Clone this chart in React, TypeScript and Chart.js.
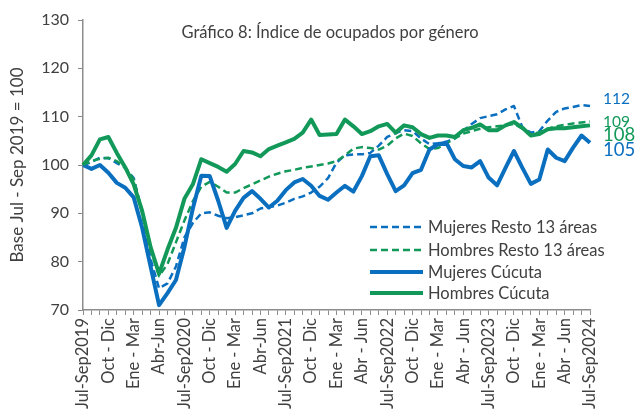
import React, { useEffect, useRef } from "react";
import { Chart, registerables } from "chart.js";
Chart.register(...registerables);

const quarterNames = ["Jul-Sep", "Ago-Oct", "Sep-Nov", "Oct-Dic", "Nov-Ene", "Dic-Feb", "Ene-Mar", "Feb-Abr", "Mar-May", "Abr-Jun", "May-Jul", "Jun-Ago"];
const startYear = 2019;
const nPeriods = 61;
const categories: string[] = Array.from({ length: nPeriods }, (_, i) => {
  const year = startYear + Math.floor((i + 6) / 12);
  return quarterNames[i % 12] + " " + year;
});

const tickLabels = [
  "Jul-Sep2019", "Oct - Dic", "Ene - Mar", "Abr-Jun",
  "Jul-Sep2020", "Oct - Dic", "Ene - Mar", "Abr-Jun",
  "Jul-Sep2021", "Oct - Dic", "Ene - Mar", "Abr - Jun",
  "Jul-Sep2022", "Oct - Dic", "Ene - Mar", "Abr - Jun",
  "Jul-Sep2023", "Oct - Dic", "Ene - Mar", "Abr - Jun",
  "Jul-Sep2024",
];

const mujeresResto = [
  100, 100.6, 101.5, 101.4, 100.4, 99.4, 97.3, 90, 80.5, 74.5,
  75.5, 79, 85, 88, 90, 90.2, 89.5, 89, 89.2, 89.6,
  90, 91, 91.3, 91.6, 92.2, 93, 93.5, 94.3, 95.5, 97.3,
  100.5, 102, 102.2, 102.2, 102.5, 104, 105.8, 106.6, 107.2, 107,
  105.5, 104.3, 104.5, 104.8, 105.5, 107, 108.5, 109.7, 110.1, 110.5,
  111.5, 112.2, 107.8, 106.7, 107, 109.2, 111, 111.7, 112, 112.4,
  112.2,
];

const hombresResto = [
  100, 100.8, 101.3, 101.5, 100.8, 99.5, 97, 90.5, 82.5, 77,
  79.5, 84, 88.5, 92.5, 95.5, 96.5, 95.5, 94.3, 94.3, 95.2,
  96, 96.8, 97.6, 98.2, 98.7, 99, 99.4, 99.7, 100, 100.3,
  100.8, 102, 103.4, 103.7, 103.5, 103.2, 104, 105.5, 106.5, 106,
  104.5, 103.3, 103.5, 104.5, 105.5, 106.5, 107, 107.5, 107.8, 108,
  108.2, 108.5, 107.5, 106.3, 106.8, 107.5, 108, 108.3, 108.6, 108.8,
  109,
];

const mujeresCucuta = [
  100, 99.2, 100, 98.4, 96.3, 95.3, 93.3, 87, 79, 71,
  73.5, 76.2, 83, 91, 97.8, 97.7, 92.6, 87, 90.5, 93.2,
  94.6, 93, 91.2, 92.6, 94.8, 96.4, 97.1, 95.7, 93.6, 92.8,
  94.3, 95.7, 94.5, 97.7, 101.8, 102, 98.1, 94.6, 95.8, 98.3,
  99, 103.2, 104.3, 104.6, 101.2, 99.8, 99.5, 100.8, 97.4, 95.8,
  99.4, 102.9, 99.4, 96.1, 97, 103.2, 101.5, 100.8, 103.6, 106.1,
  104.6,
];

const hombresCucuta = [
  100, 102, 105.3, 105.8, 102.5, 99.5, 96, 90.5, 83, 77.5,
  82.5, 87, 93, 96, 101.2, 100.4, 99.6, 98.6, 100.2, 102.9,
  102.6, 101.8, 103.3, 104, 104.7, 105.4, 106.7, 109.4, 106.2, 106.3,
  106.4, 109.4, 108, 106.4, 107, 108, 108.5, 106.7, 108.2, 107.8,
  106.4, 105.6, 106.1, 106.1, 105.8, 107.2, 107.7, 108.4, 107.2, 107.2,
  108.2, 108.9, 107.7, 106.1, 106.4, 107.4, 107.6, 107.6, 107.8, 108,
  108.2,
];

const yTicks = [70, 80, 90, 100, 110, 120, 130];

const BLUE = "#0B6FC0";
const GREEN = "#12995A";
const FONT = "Lato, 'Open Sans', sans-serif";
const TEXT = "#404040";

const seriesDefs = [
  { label: "Mujeres Resto 13 áreas", data: mujeresResto, color: BLUE, width: 2.5, dash: [7, 4], order: 4, endSize: 15.5, endOffset: -7 },
  { label: "Hombres Resto 13 áreas", data: hombresResto, color: GREEN, width: 2.5, dash: [7, 4], order: 3, endSize: 15.5, endOffset: 0 },
  { label: "Mujeres Cúcuta", data: mujeresCucuta, color: BLUE, width: 4, dash: [], order: 2, endSize: 18.5, endOffset: 7 },
  { label: "Hombres Cúcuta", data: hombresCucuta, color: GREEN, width: 4, dash: [], order: 1, endSize: 18.5, endOffset: 10 },
];

const overlayPlugin = {
  id: "overlay",
  afterDraw(chart: any) {
    const ctx = chart.ctx;
    const area = chart.chartArea;
    const yScale = chart.scales.y;
    ctx.save();
    // title
    ctx.fillStyle = TEXT;
    ctx.font = `16.5px ${FONT}`;
    ctx.textAlign = "center";
    ctx.textBaseline = "middle";
    ctx.fillText("Gráfico 8: Índice de ocupados por género", 330, 33);

    // legend
    const lx0 = area.right - 220;
    const lx1 = lx0 + 53;
    const rowY = [227, 250, 272, 293];
    seriesDefs.forEach((s, k) => {
      ctx.beginPath();
      ctx.strokeStyle = s.color;
      ctx.lineWidth = s.width;
      ctx.setLineDash(s.dash);
      ctx.lineCap = "butt";
      ctx.moveTo(lx0, rowY[k]);
      ctx.lineTo(lx1, rowY[k]);
      ctx.stroke();
      ctx.setLineDash([]);
      ctx.fillStyle = TEXT;
      ctx.font = `16.5px ${FONT}`;
      ctx.textAlign = "left";
      ctx.textBaseline = "middle";
      ctx.fillText(s.label, lx1 + 5, rowY[k] + 1);
    });

    // end labels
    seriesDefs.forEach((s) => {
      const last = s.data[s.data.length - 1];
      const y = yScale.getPixelForValue(last) + s.endOffset;
      ctx.fillStyle = s.color;
      ctx.font = `${s.endSize}px ${FONT}`;
      ctx.textAlign = "left";
      ctx.textBaseline = "middle";
      ctx.fillText(String(Math.round(last)), area.right + 13, y);
    });
    ctx.restore();
  },
};

export default function App() {
  const ref = useRef<HTMLCanvasElement | null>(null);
  useEffect(() => {
    if (!ref.current) return;
    const chart = new Chart(ref.current, {
      type: "line",
      data: {
        labels: categories,
        datasets: seriesDefs.map((s) => ({
          label: s.label,
          data: s.data,
          borderColor: s.color,
          backgroundColor: s.color,
          borderWidth: s.width,
          borderDash: s.dash,
          pointRadius: 0,
          tension: 0,
          fill: false,
          order: s.order,
          borderJoinStyle: "round" as const,
        })),
      },
      options: {
        animation: false,
        responsive: false,
        maintainAspectRatio: false,
        layout: { padding: { top: 20, right: 45, left: 0, bottom: 0 } },
        plugins: { legend: { display: false }, tooltip: { enabled: false }, title: { display: false } },
        scales: {
          x: {
            type: "category",
            offset: false,
            grid: { display: true, drawOnChartArea: false, drawTicks: true, tickLength: 5, color: "#8c8c8c" },
            border: { display: true, color: "#8c8c8c", width: 1.5 },
            ticks: {
              autoSkip: false,
              maxRotation: 90,
              minRotation: 90,
              padding: 3,
              color: TEXT,
              font: { family: FONT, size: 16.5 },
              callback: (_v: any, i: number) => (i % 3 === 0 ? tickLabels[i / 3] : ""),
            },
            afterFit: (scale: any) => {
              scale.height = 102;
            },
          },
          y: {
            min: 70,
            max: 130,
            afterBuildTicks: (scale: any) => {
              scale.ticks = yTicks.map((v) => ({ value: v }));
            },
            grid: { display: true, drawOnChartArea: false, drawTicks: true, tickLength: 5, color: "#8c8c8c" },
            border: { display: true, color: "#8c8c8c", width: 1.5 },
            ticks: { color: TEXT, font: { family: FONT, size: 16 }, padding: 9 },
            title: {
              display: true,
              text: "Base Jul - Sep 2019 = 100",
              color: TEXT,
              font: { family: FONT, size: 17 },
              padding: { top: 7, bottom: 0 },
            },
            afterFit: (scale: any) => {
              scale.width = 83;
            },
          },
        },
      },
      plugins: [overlayPlugin],
    });
    return () => chart.destroy();
  }, []);
  return (
    <div style={{ position: "absolute", left: 0, top: 0, width: 635, height: 412, background: "#fff" }}>
      <canvas ref={ref} width={635} height={412} style={{ width: 635, height: 412 }} />
    </div>
  );
}
